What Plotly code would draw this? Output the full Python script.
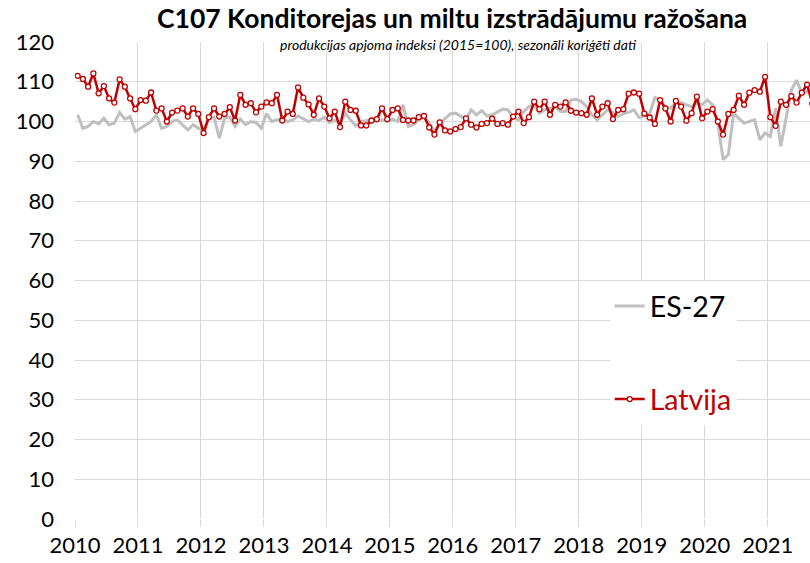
import plotly.graph_objects as go

# Monthly index values, Jan 2010 .. Sep 2021 (2015=100)
latvija = [
    111.5, 110.7, 108.75, 112.1, 107.1, 108.9, 105.8, 104.75, 110.6, 108.75, 105.8, 103.1,
    105.4, 105.25, 107.3, 102.75, 103.3, 100.0, 102.25, 102.75, 103.3, 101.25, 103.3, 101.9,
    97.1, 101.1, 103.3, 101.25, 101.9, 103.6, 100.25, 106.7, 104.2, 104.6, 102.3, 103.75,
    104.8, 104.6, 106.7, 100.25, 102.5, 101.9, 108.6, 106.0, 104.3, 101.7, 105.8, 103.75,
    100.8, 102.5, 98.6, 105.0, 102.9, 102.7, 99.0, 99.0, 100.25, 100.6, 103.3, 100.6,
    102.9, 103.3, 100.4, 100.25, 100.25, 101.1, 101.4, 98.5, 96.7, 99.8, 97.75, 97.5,
    98.1, 98.6, 100.8, 99.2, 98.5, 99.4, 99.6, 100.7, 99.4, 99.6, 99.2, 101.25,
    102.5, 99.6, 101.1, 105.0, 103.1, 105.0, 101.7, 104.2, 103.75, 104.8, 102.7, 102.25,
    102.1, 101.7, 105.8, 101.7, 103.75, 104.6, 100.6, 102.9, 103.1, 107.0, 107.3, 107.0,
    102.0, 101.0, 99.4, 105.4, 103.3, 100.0, 105.2, 103.75, 100.2, 102.1, 106.25, 100.8,
    102.5, 103.1, 100.0, 96.7, 101.9, 102.9, 106.5, 104.2, 107.25, 107.9, 107.5, 111.25,
    101.1, 98.9, 105.0, 104.2, 106.4, 104.75, 107.25, 109.3, 104.5,
]
es27 = [
    101.7, 98.3, 98.75, 100.0, 99.4, 100.8, 99.2, 99.6, 102.25, 100.6, 101.25, 97.5,
    98.3, 99.2, 100.0, 101.7, 98.3, 98.75, 100.0, 100.4, 99.2, 97.9, 99.2, 98.3,
    97.9, 100.8, 101.1, 95.8, 100.8, 101.1, 98.75, 100.6, 99.2, 100.0, 99.75, 98.3,
    102.0, 100.0, 100.4, 100.8, 100.0, 100.4, 101.4, 100.8, 100.0, 100.6, 100.25, 101.1,
    99.75, 100.25, 99.75, 102.0, 100.4, 98.9, 100.0, 100.25, 100.4, 100.0, 100.4, 100.0,
    100.6, 100.0, 104.2, 98.75, 99.2, 100.4, 101.25, 99.6, 97.5, 99.5, 100.8, 101.9,
    102.1, 101.25, 100.6, 102.9, 101.7, 102.7, 101.4, 101.7, 102.5, 103.1, 102.9, 101.25,
    100.4, 102.5, 103.75, 104.2, 102.1, 102.9, 103.3, 103.75, 102.5, 102.5, 105.4, 105.6,
    105.0, 103.75, 101.7, 100.4, 101.7, 102.9, 102.25, 101.25, 102.0, 102.3, 102.9, 101.0,
    101.4, 102.0, 106.0, 105.4, 103.75, 103.3, 104.75, 104.75, 104.2, 103.75, 104.6, 104.2,
    105.4, 104.2, 99.6, 90.4, 91.7, 102.1, 100.8, 99.6, 100.0, 100.4, 95.4, 97.1,
    96.25, 103.3, 93.75, 100.8, 107.9, 110.4, 107.1, 107.5, 108.3,
]
start_year = 2010
year_ticks = list(range(2010, 2022))
y_ticks = list(range(0, 121, 10))

title_text = "C107 Konditorejas un miltu izstrādājumu ražošana"
subtitle_text = "produkcijas apjoma indeksi (2015=100), sezonāli koriģēti dati"

x_lv = [start_year + (i + 0.5) / 12 for i in range(len(latvija))]
x_es = [start_year + (i + 0.5) / 12 for i in range(len(es27))]

FONT = "Lato, 'Open Sans', sans-serif"
RED = "#c00000"
GREY = "#bfbfbf"

fig = go.Figure()
fig.add_trace(go.Scatter(
    x=x_es, y=es27, name="ES-27", mode="lines",
    line=dict(color=GREY, width=3), legendgroup="a",
))
fig.add_trace(go.Scatter(
    x=x_lv, y=latvija, name=f"<span style='color:{RED}'>Latvija</span>",
    mode="lines+markers", legendgroup="b",
    line=dict(color=RED, width=2.5),
    marker=dict(symbol="circle", size=5, color="white", line=dict(color=RED, width=1.3)),
))

fig.update_layout(
    width=810, height=563,
    margin=dict(l=75, r=0, t=42, b=44),
    paper_bgcolor="white", plot_bgcolor="white",
    font=dict(family=FONT, color="#000000"),
    showlegend=True,
    legend=dict(
        x=0.7275, y=0.499, xanchor="left", yanchor="top",
        bgcolor="white", borderwidth=0,
        font=dict(size=28.5, family=FONT, color="#000000"),
        tracegroupgap=53, itemwidth=30,
    ),
    annotations=[
        dict(text=f"<b>{title_text}</b>", xref="paper", yref="paper",
             x=(452 - 75) / 735, y=1, yshift=42 - 18, yanchor="middle", xanchor="center",
             showarrow=False, font=dict(size=26.5, family=FONT, color="#000000")),
        dict(text=f"<i>{subtitle_text}</i>", xref="paper", yref="paper",
             x=(458 - 75) / 735, y=1, yshift=42 - 44, yanchor="middle", xanchor="center",
             showarrow=False, font=dict(size=14, family=FONT, color="#000000")),
    ],
)
fig.update_xaxes(
    range=[2010, 2010 + (810 - 74.7) / 63.0],
    tickmode="array", tickvals=year_ticks, ticktext=[str(y) for y in year_ticks],
    showgrid=True, gridcolor="#d9d9d9", gridwidth=1,
    ticks="outside", ticklen=7, tickcolor="#d9d9d9",
    showline=False, zeroline=False, automargin=False,
    tickfont=dict(size=22, family=FONT, color="#000000"),
)
fig.update_yaxes(
    range=[0, 120],
    tickmode="array", tickvals=y_ticks,
    showgrid=True, gridcolor="#d9d9d9", gridwidth=1,
    showline=False, zeroline=False, automargin=False,
    ticks="", ticklabelstandoff=20,
    tickfont=dict(size=22, family=FONT, color="#000000"),
)

fig.write_html(
    "out.html",
    config={"displayModeBar": False},
    post_script="document.body.style.margin='0';document.body.style.overflow='hidden';",
)
